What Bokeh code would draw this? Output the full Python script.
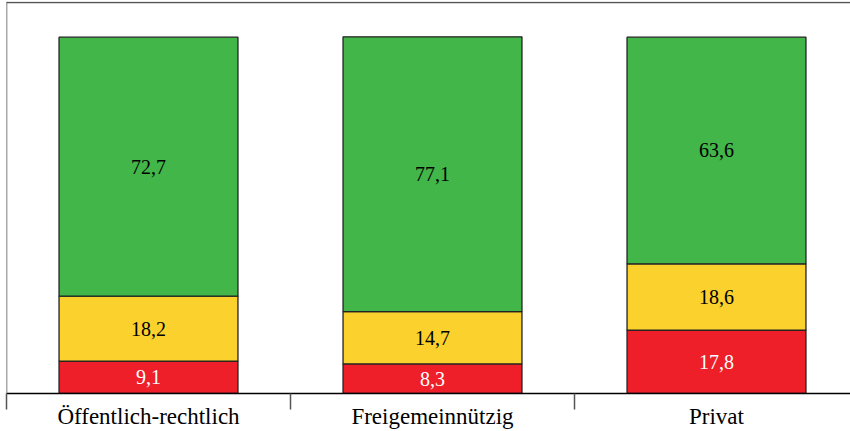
from bokeh.plotting import figure
from bokeh.models import ColumnDataSource, Range1d, FixedTicker, Span
from bokeh.core.properties import value
from bokeh.embed import file_html
from bokeh.resources import INLINE

categories = ["Öffentlich-rechtlich", "Freigemeinnützig", "Privat"]
rot = [9.1, 8.3, 17.8]
gelb = [18.2, 14.7, 18.6]
gruen = [72.7, 77.1, 63.6]

colors = {"rot": "#EE1F28", "gelb": "#FBD12D", "gruen": "#43B649"}
label_colors = {"rot": "white", "gelb": "black", "gruen": "black"}

xs = [i + 0.5 for i in range(len(categories))]
src = ColumnDataSource(dict(x=xs, rot=rot, gelb=gelb, gruen=gruen))

p = figure(width=850, height=431, output_backend="svg", toolbar_location=None,
           x_range=Range1d(0, 844 / 284), y_range=Range1d(0, 110),
           min_border_left=6, min_border_right=0, min_border_top=1, min_border_bottom=0,
           y_axis_location=None)
p.outline_line_color = None
p.grid.visible = False

p.vbar_stack(["rot", "gelb", "gruen"], x="x", width=0.63, source=src,
             color=[colors["rot"], colors["gelb"], colors["gruen"]],
             line_color="#222222", line_width=1.3)

# segment labels
series = (("rot", rot), ("gelb", gelb), ("gruen", gruen))
for key, vals in series:
    ys = []
    for i in range(len(categories)):
        base = 0.0
        for k2, v2 in series:
            if k2 == key:
                ys.append(base + v2[i] / 2)
                break
            base += v2[i]
    p.text(x=xs, y=ys, text=[f"{v:.1f}".replace(".", ",") for v in vals],
           text_font=value("Liberation Serif"), text_font_size="20px",
           text_align="center", text_baseline="middle", text_color=label_colors[key])

p.add_layout(Span(location=0, dimension="height", line_color="#555555", line_width=1.5))
p.add_layout(Span(location=109.7, dimension="width", line_color="#555555", line_width=1.5))

ax = p.xaxis[0]
ax.ticker = FixedTicker(ticks=xs, minor_ticks=[0, 1, 2, 3])
ax.major_label_overrides = {x: c for x, c in zip(xs, categories)}
ax.major_tick_out = 0
ax.major_tick_in = 0
ax.minor_tick_out = 16
ax.minor_tick_in = 0
ax.minor_tick_line_color = "#555555"
ax.minor_tick_line_width = 1.5
ax.axis_line_color = "black"
ax.axis_line_width = 1.3
ax.major_label_standoff = -6
ax.major_label_text_font = "Liberation Serif"
ax.major_label_text_font_size = "23px"
ax.major_label_text_color = "black"

open("out.html", "w").write(file_html(p, INLINE))
